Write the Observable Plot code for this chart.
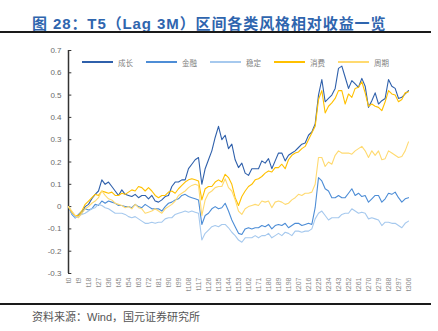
<!DOCTYPE html>
<html><head><meta charset="utf-8">
<script src="https://cdn.jsdelivr.net/npm/d3@7"></script>
<script src="https://cdn.jsdelivr.net/npm/@observablehq/plot@0.6"></script>
<style>
body{margin:0;background:#fff;}
#wrap{position:relative;width:438px;height:331px;overflow:hidden;background:#fff;font-family:"Liberation Sans","Noto Sans CJK SC",sans-serif;}
#chart{position:absolute;left:0;top:0;}
#title{position:absolute;left:32px;top:12px;font-size:15px;font-weight:bold;color:#2F65AE;white-space:nowrap;letter-spacing:0.9px;font-family:"Liberation Sans","Noto Sans CJK SC",sans-serif;}
.rule{position:absolute;left:0;width:431px;height:2px;background:#1a1a1a;}
#caption{position:absolute;left:32px;top:308px;font-size:11px;color:#555;white-space:nowrap;font-family:"Liberation Sans","Noto Sans CJK SC",sans-serif;}
.lg{position:absolute;top:56px;height:12px;display:flex;align-items:center;font-size:7.5px;color:#808080;font-family:"Noto Sans CJK SC",sans-serif;white-space:nowrap;}
.lg span.sw{display:inline-block;width:31px;height:1.4px;margin-right:5px;}
</style>
</head><body>
<div id="wrap">
  <div id="chart"></div>
  <div id="title">图 28：T5（Lag 3M）区间各类风格相对收益一览</div>
  <div class="rule" style="top:31px"></div>
  <div class="rule" style="top:303px"></div>
  <div id="caption">资料来源：Wind，国元证券研究所</div>
  <div id="legend"></div>
</div>
<script>
// Series names and colours
const seriesNames = ["成长", "金融", "稳定", "消费", "周期"];
const seriesColors = ["#2F60AB", "#4D8DD6", "#A6C9EE", "#FFC000", "#FFDA70"];

// Values sampled every 3rd period (t0, t3, ..., t306)
const growth = [0,-0.03,-0.05,-0.04,-0.03,0.0,0.01,0.035,0.055,0.07,0.12,0.10,0.11,0.09,0.07,0.05,0.075,0.055,0.05,0.045,0.055,0.04,0.05,0.05,0.035,0.05,0.025,0.02,0.03,0.045,0.05,0.09,0.11,0.11,0.12,0.12,0.17,0.19,0.21,0.22,0.10,0.17,0.21,0.25,0.31,0.36,0.30,0.32,0.26,0.28,0.21,0.175,0.195,0.15,0.14,0.17,0.17,0.17,0.205,0.195,0.215,0.17,0.205,0.24,0.24,0.205,0.23,0.24,0.25,0.265,0.28,0.285,0.32,0.335,0.37,0.50,0.57,0.47,0.485,0.50,0.53,0.62,0.63,0.58,0.53,0.565,0.55,0.535,0.575,0.54,0.445,0.475,0.51,0.46,0.475,0.485,0.57,0.54,0.53,0.485,0.49,0.505,0.52];
const finance = [0,-0.035,-0.05,-0.035,-0.02,-0.01,-0.015,-0.01,0.01,0.005,0.025,0.015,0.025,0.02,0.015,0.005,0.005,0.0,0.0,-0.005,0.01,0.0,-0.005,0.01,0.0,-0.01,-0.01,-0.01,-0.02,0.0,0.015,0.02,0.03,0.035,0.05,0.055,0.045,0.04,0.035,0.03,-0.08,-0.04,-0.03,-0.01,0.0,-0.01,-0.005,0.015,-0.02,-0.06,-0.09,-0.12,-0.125,-0.10,-0.095,-0.10,-0.095,-0.095,-0.085,-0.09,-0.08,-0.10,-0.085,-0.08,-0.085,-0.075,-0.095,-0.085,-0.075,-0.075,-0.085,-0.08,-0.075,-0.08,-0.005,0.13,0.115,0.08,0.07,0.04,0.04,0.05,0.04,0.04,0.06,0.08,0.05,0.06,0.045,0.05,0.02,0.035,0.05,0.05,0.02,0.035,0.06,0.055,0.065,0.04,0.02,0.035,0.04];
const stable = [0,-0.03,-0.05,-0.045,-0.035,-0.03,-0.02,-0.01,-0.005,0.01,0.005,-0.005,-0.01,-0.02,-0.03,-0.03,-0.03,-0.035,-0.045,-0.05,-0.045,-0.055,-0.065,-0.075,-0.075,-0.07,-0.075,-0.07,-0.07,-0.055,-0.05,-0.05,-0.035,-0.03,-0.025,-0.02,-0.025,-0.02,-0.025,-0.03,-0.15,-0.12,-0.105,-0.09,-0.085,-0.09,-0.08,-0.08,-0.095,-0.115,-0.13,-0.15,-0.16,-0.14,-0.14,-0.14,-0.13,-0.14,-0.13,-0.13,-0.12,-0.14,-0.13,-0.12,-0.13,-0.115,-0.12,-0.13,-0.11,-0.11,-0.115,-0.11,-0.11,-0.10,-0.055,-0.03,-0.02,-0.04,-0.06,-0.05,-0.05,-0.05,-0.035,-0.03,-0.03,-0.01,-0.02,-0.03,-0.025,-0.03,-0.055,-0.05,-0.055,-0.06,-0.085,-0.07,-0.07,-0.075,-0.075,-0.085,-0.095,-0.075,-0.065];
const consumer = [0,-0.025,-0.04,-0.04,-0.02,0.01,0.025,0.04,0.055,0.05,0.07,0.065,0.06,0.065,0.05,0.05,0.06,0.055,0.065,0.075,0.07,0.09,0.085,0.07,0.085,0.07,0.05,0.04,0.05,0.05,0.065,0.07,0.06,0.08,0.095,0.11,0.12,0.125,0.12,0.115,0.03,0.08,0.09,0.09,0.11,0.12,0.11,0.145,0.13,0.10,0.04,0.005,0.045,0.07,0.09,0.10,0.12,0.125,0.135,0.15,0.16,0.155,0.175,0.175,0.19,0.17,0.21,0.23,0.24,0.245,0.26,0.27,0.30,0.33,0.36,0.48,0.52,0.42,0.45,0.465,0.485,0.52,0.52,0.46,0.505,0.49,0.53,0.535,0.56,0.51,0.45,0.46,0.45,0.445,0.43,0.47,0.52,0.505,0.50,0.47,0.48,0.51,0.515];
const cyclical = [0,-0.02,-0.04,-0.05,-0.03,-0.01,0.0,0.015,0.025,0.04,0.07,0.05,0.035,0.03,0.015,0.01,0.005,-0.005,0.0,-0.01,0.01,-0.005,-0.01,-0.03,-0.025,-0.02,-0.01,-0.02,-0.03,-0.01,0.0,0.01,0.025,0.05,0.06,0.07,0.085,0.095,0.10,0.095,-0.04,0.03,0.06,0.07,0.085,0.09,0.09,0.125,0.085,0.07,0.03,-0.02,-0.035,-0.01,0.0,0.005,0.01,0.005,0.025,0.02,0.025,-0.005,0.02,0.025,0.02,0.01,0.015,0.03,0.04,0.055,0.05,0.06,0.06,0.065,0.10,0.22,0.22,0.18,0.20,0.19,0.23,0.25,0.24,0.24,0.24,0.235,0.25,0.26,0.27,0.25,0.22,0.25,0.23,0.25,0.21,0.215,0.25,0.24,0.23,0.22,0.225,0.25,0.29];

// Tick labels
const xTickLabels = ["t0","t9","t18","t27","t36","t45","t54","t63","t72","t81","t90","t99","t108","t117","t126","t135","t144","t153","t162","t171","t180","t189","t198","t207","t216","t225","t234","t243","t252","t261","t270","t279","t288","t297","t306"];
const yTickLabels = ["-0.3","-0.2","-0.1","0","0.1","0.2","0.3","0.4","0.5","0.6","0.7"];

const periods = growth.map((_, i) => i * 3);
const allSeries = [growth, finance, stable, consumer, cyclical];
const rows = allSeries.flatMap((vals, si) => vals.map((v, i) => ({t: periods[i], v, name: seriesNames[si]})));
const xTicks = xTickLabels.map(s => +s.slice(1));
const yTicks = yTickLabels.map(Number);

const chart = Plot.plot({
  width: 438, height: 300,
  marginLeft: 68, marginRight: 30, marginTop: 50, marginBottom: 27,
  style: {background: "transparent", fontFamily: "Liberation Sans, Arial, sans-serif"},
  x: {domain: [0, 306], axis: null},
  y: {domain: [-0.3, 0.7], axis: null},
  color: {domain: seriesNames, range: seriesColors},
  marks: [
    Plot.axisY(yTicks, {label: null, tickSize: 0, tickPadding: 7, fontSize: 8, fill: "#6b6b6b", tickFormat: d => yTickLabels[yTicks.indexOf(d)]}),
    Plot.axisX(xTicks, {label: null, tickSize: 0, tickPadding: 4, tickRotate: -90, fontSize: 7, fill: "#8a8a8a", tickFormat: d => xTickLabels[xTicks.indexOf(d)]}),
    Plot.ruleY(yTicks, {x1: 0, x2: 3, stroke: "#333", strokeWidth: 1}),
    Plot.ruleX([0], {y1: -0.3, y2: 0.7, stroke: "#333", strokeWidth: 1.5}),
    Plot.line(rows, {x: "t", y: "v", z: "name", stroke: "name", strokeWidth: 1.1, curve: "linear"})
  ]
});
document.getElementById("chart").appendChild(chart);

const legend = document.getElementById("legend");
seriesNames.forEach((n, i) => {
  const d = document.createElement("div");
  d.className = "lg";
  d.style.left = (82 + i * 64) + "px";
  d.innerHTML = `<span class="sw" style="background:${seriesColors[i]}"></span>${n}`;
  legend.appendChild(d);
});
</script>
</body></html>
